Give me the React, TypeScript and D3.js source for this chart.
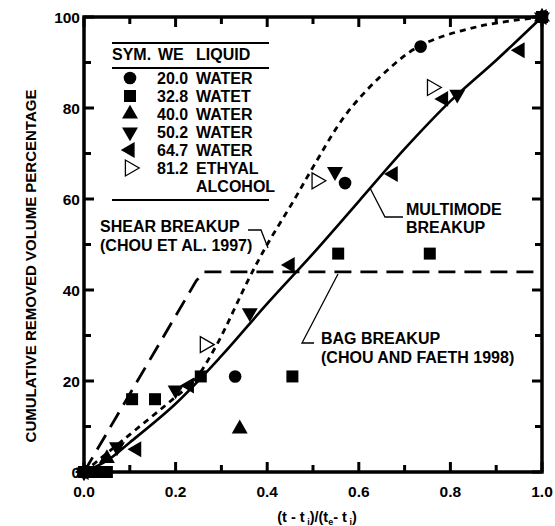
import React from "react";
import * as d3 from "d3";

// scatter series: [x, y]
const we200 = [[0, 0], [0.33, 21], [0.57, 63.5], [0.735, 93.5], [1.0, 100]];
const we328 = [[0, 0], [0.025, 0], [0.05, 0], [0.105, 16], [0.155, 16], [0.255, 21], [0.455, 21], [0.555, 48], [0.755, 48], [1.0, 100]];
const we400 = [[0, 0], [0.05, 3], [0.34, 9.5], [1.0, 100]];
const we502 = [[0, 0], [0.072, 5.5], [0.2, 18], [0.362, 35], [0.548, 66], [0.815, 83], [1.0, 100]];
const we647 = [[0, 0], [0.115, 5], [0.23, 19], [0.45, 45.5], [0.675, 65.5], [0.785, 82], [0.952, 92.7], [1.0, 100]];
const we812 = [[0.264, 28], [0.508, 64], [0.76, 84.5]];

// curves
const multimode = [[0, 0], [0.05, 2.5], [0.1, 6.5], [0.2, 15], [0.3, 25.5], [0.4, 37], [0.5, 48], [0.6, 59.5], [0.7, 71], [0.8, 81.5], [0.9, 90.5], [1.0, 100]];
const shear = [[0, 0], [0.085, 7], [0.2, 16.5], [0.24, 20], [0.29, 28], [0.36, 42.5], [0.4, 50], [0.46, 60], [0.5, 67], [0.575, 79], [0.67, 89], [0.74, 94], [0.865, 98], [1.0, 100]];
const bag = [[0, 0], [0.245, 42], [0.262, 44], [0.99, 44]];

const xMajor = [0, 0.2, 0.4, 0.6, 0.8, 1.0];
const xMinor = [0.1, 0.3, 0.5, 0.7, 0.9];
const yMajor = [0, 20, 40, 60, 80, 100];
const yMinor = [10, 30, 50, 70, 90];

const legendRows = [
  ["circle", "20.0", "WATER"],
  ["square", "32.8", "WATET"],
  ["up", "40.0", "WATER"],
  ["down", "50.2", "WATER"],
  ["left", "64.7", "WATER"],
  ["right", "81.2", "ETHYAL"],
];

const font = "'Liberation Sans', Arial, Helvetica, sans-serif";

const x = d3.scaleLinear().domain([0, 1]).range([84, 542]);
const y = d3.scaleLinear().domain([0, 100]).range([472, 17]);

const symPath = {
  circle: d3.symbol().type(d3.symbolCircle).size(125)(),
  square: d3.symbol().type(d3.symbolSquare).size(144)(),
  tri: d3.symbol().type(d3.symbolTriangle).size(110)(),
};

function Marker({ kind, cx, cy }) {
  const t = `translate(${cx},${cy})`;
  if (kind === "circle") return <path d={symPath.circle} transform={t} fill="#000" />;
  if (kind === "square") return <path d={symPath.square} transform={t} fill="#000" />;
  const rot = { up: 0, down: 180, left: -90, right: 90 }[kind];
  const open = kind === "right";
  return (
    <path
      d={symPath.tri}
      transform={`${t} rotate(${rot})`}
      fill={open ? "#fff" : "#000"}
      stroke="#000"
      strokeWidth={open ? 1.3 : 0}
    />
  );
}

export default function App() {
  const line = d3.line().x((d) => x(d[0])).y((d) => y(d[1]));
  const smooth = d3.line().x((d) => x(d[0])).y((d) => y(d[1])).curve(d3.curveCatmullRom);

  const series = [
    ["circle", we200],
    ["square", we328],
    ["up", we400],
    ["down", we502],
    ["left", we647],
    ["right", we812],
  ];

  const x0 = x(0), x1 = x(1), y0 = y(0), y1 = y(100);

  return (
    <svg width={555} height={526} style={{ position: "absolute", left: 0, top: 0, background: "#fff" }} fontFamily={font} fontWeight="bold">
      {/* curves */}
      <path d={smooth(multimode)} fill="none" stroke="#000" strokeWidth={2.6} />
      <path d={smooth(shear)} fill="none" stroke="#000" strokeWidth={2.8} strokeDasharray="6,5" />
      <path d={line(bag)} fill="none" stroke="#000" strokeWidth={2.8} strokeDasharray="17,9" />

      {/* points */}
      {series.map(([kind, pts]) =>
        pts.map((p, i) => <Marker key={kind + i} kind={kind} cx={x(p[0])} cy={y(p[1])} />)
      )}

      {/* frame */}
      <rect x={x0} y={y1} width={x1 - x0} height={y0 - y1} fill="none" stroke="#000" strokeWidth={3.5} />

      {/* ticks */}
      <g stroke="#000" strokeWidth={3}>
        {xMajor.concat(xMinor).map((v) => {
          const len = xMajor.includes(v) ? 10 : 7;
          return (
            <g key={"xt" + v}>
              <line x1={x(v)} x2={x(v)} y1={y0} y2={y0 - len} />
              <line x1={x(v)} x2={x(v)} y1={y1} y2={y1 + len} />
            </g>
          );
        })}
        {yMajor.concat(yMinor).map((v) => {
          const len = yMajor.includes(v) ? 10 : 7;
          return (
            <g key={"yt" + v}>
              <line x1={x0} x2={x0 + len} y1={y(v)} y2={y(v)} />
              <line x1={x1} x2={x1 - len} y1={y(v)} y2={y(v)} />
            </g>
          );
        })}
      </g>

      {/* tick labels */}
      <g fontSize={15.5}>
        {xMajor.map((v) => (
          <text key={"xl" + v} x={x(v)} y={497} textAnchor="middle">{v.toFixed(1)}</text>
        ))}
        {yMajor.map((v) => (
          <text key={"yl" + v} x={80} y={y(v) + 5.5} textAnchor="end">{v}</text>
        ))}
      </g>

      {/* axis titles */}
      <text x={317} y={522} textAnchor="middle" fontSize={14.5}>
        (t - t<tspan fontSize={9} dy={3}> i</tspan><tspan dy={-3}>)/(t</tspan>
        <tspan fontSize={9} dy={3}>e</tspan><tspan dy={-3}>- t</tspan>
        <tspan fontSize={9} dy={3}> i</tspan><tspan dy={-3}>)</tspan>
      </text>
      <text transform="translate(36,266) rotate(-90)" textAnchor="middle" fontSize={15}>
        CUMULATIVE REMOVED VOLUME PERCENTAGE
      </text>

      {/* legend */}
      <g fontSize={16}>
        <line x1={112} x2={269} y1={43} y2={43} stroke="#000" strokeWidth={1.8} />
        <text x={112} y={60}>SYM.</text>
        <text x={158} y={60}>WE</text>
        <text x={196} y={60}>LIQUID</text>
        <line x1={112} x2={269} y1={68} y2={68} stroke="#000" strokeWidth={1.8} />
        {legendRows.map(([kind, we, liq], i) => {
          const cy = 78 + i * 18;
          return (
            <g key={"lg" + i}>
              <Marker kind={kind} cx={130} cy={cy} />
              <text x={157} y={cy + 6}>{we}</text>
              <text x={196} y={cy + 6}>{liq}</text>
            </g>
          );
        })}
        <text x={196} y={192}>ALCOHOL</text>
        <line x1={112} x2={269} y1={200} y2={200} stroke="#000" strokeWidth={1.8} />
      </g>

      {/* annotations */}
      <g fontSize={16}>
        <text x={100} y={232}>SHEAR BREAKUP</text>
        <text x={100} y={251}>(CHOU ET AL. 1997)</text>
        <polyline points="248,230 261,230 268,248" fill="none" stroke="#000" strokeWidth={1.3} />

        <text x={406} y={215}>MULTIMODE</text>
        <text x={406} y={233}>BREAKUP</text>
        <polyline points="370,188 385,217 403,217" fill="none" stroke="#000" strokeWidth={1.3} />

        <text x={321} y={344}>BAG BREAKUP</text>
        <text x={321} y={363}>(CHOU AND FAETH 1998)</text>
        <polyline points="338,274 302,343 314,343" fill="none" stroke="#000" strokeWidth={1.3} />
      </g>
    </svg>
  );
}
